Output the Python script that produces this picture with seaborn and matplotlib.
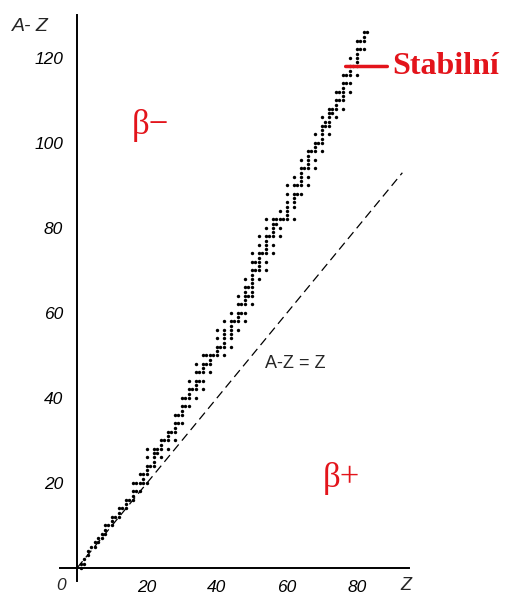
import numpy as np
import pandas as pd
import matplotlib
matplotlib.use("Agg")
import matplotlib.pyplot as plt
import matplotlib.ticker as mticker
import seaborn as sns

sns.set_style("white")
plt.rcParams['font.family'] = ['Liberation Sans', 'DejaVu Sans']

# proton number of each element that has stable nuclides
proton_numbers = [1, 2, 3, 4, 5, 6, 7, 8, 9, 10, 11, 12, 13, 14, 15, 16, 17, 18, 19, 20,
                  21, 22, 23, 24, 25, 26, 27, 28, 29, 30, 31, 32, 33, 34, 35, 36, 37, 38, 39, 40,
                  41, 42, 44, 45, 46, 47, 48, 49, 50, 51, 52, 53, 54, 55, 56, 57, 58, 59, 60,
                  62, 63, 64, 65, 66, 67, 68, 69, 70, 71, 72, 73, 74, 75, 76, 77, 78, 79, 80,
                  81, 82, 83]

# neutron numbers (A - Z) of the stable nuclides, one list per element above
neutron_numbers = [
    [0, 1], [1, 2], [3, 4], [5], [5, 6], [6, 7], [7, 8], [8, 9, 10], [10], [10, 11, 12],
    [12], [12, 13, 14], [14], [14, 15, 16], [16], [16, 17, 18, 20], [18, 20], [18, 20, 22],
    [20, 21, 22], [20, 22, 23, 24, 26, 28],
    [24], [24, 25, 26, 27, 28], [27, 28], [26, 28, 29, 30], [30], [28, 30, 31, 32], [32],
    [30, 32, 33, 34, 36], [34, 36], [34, 36, 37, 38, 40], [38, 40], [38, 40, 41, 42, 44],
    [42], [40, 42, 43, 44, 46, 48], [44, 46], [42, 44, 46, 47, 48, 50], [48, 50],
    [46, 48, 49, 50], [50], [50, 51, 52, 54, 56],
    [52], [50, 52, 53, 54, 55, 56, 58], [52, 54, 55, 56, 57, 58, 60], [58],
    [56, 58, 59, 60, 62, 64], [60, 62], [58, 60, 62, 63, 64, 65, 66, 68], [64, 66],
    [62, 64, 65, 66, 67, 68, 69, 70, 72, 74], [70, 72], [68, 70, 71, 72, 73, 74, 76, 78],
    [74], [70, 72, 74, 75, 76, 77, 78, 80, 82], [78], [74, 76, 78, 79, 80, 81, 82],
    [81, 82], [78, 80, 82, 84], [82], [82, 83, 84, 85, 86, 88, 90],
    [82, 85, 86, 87, 88, 90, 92], [88, 90], [88, 90, 91, 92, 93, 94, 96], [94],
    [90, 92, 94, 95, 96, 97, 98], [98], [94, 96, 98, 99, 100, 102], [100],
    [98, 100, 101, 102, 103, 104, 106], [104, 105], [102, 104, 105, 106, 107, 108],
    [107, 108], [106, 108, 109, 110, 112], [110, 112], [108, 110, 111, 112, 113, 114, 116],
    [114, 116], [112, 114, 116, 117, 118, 120], [118], [116, 118, 119, 120, 121, 122, 124],
    [122, 124], [122, 124, 125, 126], [126],
]

x_ticks = [20, 40, 60, 80]
y_ticks = [20, 40, 60, 80, 100, 120]

nuclides = pd.DataFrame({"Z": proton_numbers, "N": neutron_numbers}).explode("N")
nuclides["N"] = nuclides["N"].astype(int)

red = "#e3141b"

fig = plt.figure(figsize=(5.07, 5.96), dpi=100)
ax = fig.add_axes([0.1174, 0.0256, 0.690, 0.9484])

sns.scatterplot(data=nuclides, x="Z", y="N", marker="o", s=6, color="black",
                linewidth=0, ax=ax, legend=False)

# line A - Z = Z
line_z = np.array([0, 93])
ax.plot(line_z, line_z, color="black", lw=0.9, dashes=(7, 4))

ax.set_xlim(-5, 95)
ax.set_ylim(-3, 130)

for side in ["top", "right"]:
    ax.spines[side].set_visible(False)
for side in ["left", "bottom"]:
    ax.spines[side].set_position(("data", 0))
    ax.spines[side].set_linewidth(1.4)
    ax.spines[side].set_color("black")

ax.xaxis.set_major_locator(mticker.MultipleLocator(10))
ax.yaxis.set_major_locator(mticker.MultipleLocator(10))
ax.xaxis.set_minor_locator(mticker.MultipleLocator(1))
ax.yaxis.set_minor_locator(mticker.MultipleLocator(1))
ax.xaxis.set_major_formatter(mticker.FuncFormatter(
    lambda v, p: f"{int(v)}" if int(v) in x_ticks else ""))
ax.yaxis.set_major_formatter(mticker.FuncFormatter(
    lambda v, p: f"{int(v)}" if int(v) in y_ticks else ""))
ax.tick_params(which="major", direction="in", length=5, width=1, colors="black",
               labelsize=12.5, pad=9)
ax.tick_params(which="minor", direction="in", length=2.5, width=0.8, colors="black")
ax.tick_params(axis="y", which="major", pad=10)
for lab in ax.get_xticklabels() + ax.get_yticklabels():
    lab.set_fontstyle("italic")
ax.set_xlabel("")
ax.set_ylabel("")

ax.text(-4.5, -4.2, "0", fontsize=12.5, style="italic", ha="center", va="center")
ax.text(94, -4.2, "Z", fontsize=13, style="italic", ha="center", va="center")
ax.text(-13.4, 127.3, "A- Z", fontsize=14, style="italic", ha="center", va="center",
        clip_on=False)
ax.text(62.5, 48.2, "A-Z = Z", fontsize=13, ha="center", va="center")

ax.text(21, 104, "β−", fontsize=25, color=red, family="Liberation Serif",
        ha="center", va="center")
ax.text(75.5, 21, "β+", fontsize=25, color=red, family="Liberation Serif",
        ha="center", va="center")
ax.annotate("", xy=(76, 118), xytext=(89.5, 118),
            arrowprops=dict(arrowstyle="-", color=red, lw=2.5), annotation_clip=False)
ax.text(90, 118, "Stabilní", fontsize=23, color=red, family="Liberation Serif",
        weight="bold", ha="left", va="center", clip_on=False)

fig.savefig("out.png", dpi=100)
